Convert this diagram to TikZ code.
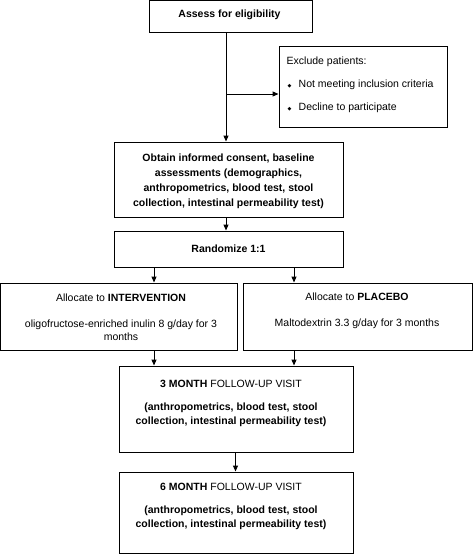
\documentclass[tikz,border=0pt]{standalone}
\usepackage{fontspec}
\setmainfont{Liberation Sans}
\newfontfamily\symfont{DejaVu Sans}
\usetikzlibrary{arrows.meta}
\newcommand{\bul}{\makebox[12pt][l]{\hspace{1pt}{\symfont\fontsize{5}{5}\selectfont ◆}}}
\begin{document}
\begin{tikzpicture}[x=1pt,y=-1pt,
  box/.style={draw=black,line width=1pt,rectangle,inner sep=0pt},
  txt/.style={inner sep=0pt,align=center,font=\fontsize{10.5}{14}\selectfont},
  arr/.style={line width=1pt,-{Triangle[length=6pt,width=5pt]}}]
\useasboundingbox (0,0) rectangle (473,554);
% boxes
\node[box,minimum width=163pt,minimum height=31.5pt] (assess) at (230.5,16.25) {};
\node[box,minimum width=168pt,minimum height=81pt] (excl) at (363,86.5) {};
\node[box,minimum width=229pt,minimum height=75pt] (consent) at (228.5,179.5) {};
\node[box,minimum width=229pt,minimum height=36pt] (rand) at (228.5,249) {};
\node[box,minimum width=236.5pt,minimum height=67pt] (interv) at (118.75,316.5) {};
\node[box,minimum width=229pt,minimum height=67pt] (placebo) at (357.5,316.5) {};
\node[box,minimum width=234pt,minimum height=86pt] (m3) at (236,409) {};
\node[box,minimum width=234pt,minimum height=81pt] (m6) at (236,512.5) {};
% texts
\node[txt] (tassess) at (229.5,15) {\textbf{Assess for eligibility}};
\node[txt,align=left,anchor=west,font=\fontsize{10.5}{23}\selectfont] (texcl) at (286.5,85)
  {Exclude patients:\\ \bul Not meeting inclusion criteria\\ \bul Decline to participate};
\node[txt,font=\bfseries\fontsize{10.5}{15}\selectfont] (tconsent) at (228.5,181.5)
  {Obtain informed consent, baseline\\ assessments (demographics,\\ anthropometrics, blood test, stool\\ collection, intestinal permeability test)};
\node[txt] (trand) at (228.5,249) {\textbf{Randomize 1:1}};
\node[txt,font=\fontsize{10.5}{13.5}\selectfont] (tinterv) at (121,317)
  {Allocate to \textbf{INTERVENTION}\\[12.5pt] oligofructose-enriched inulin 8 g/day for 3\\ months};
\node[txt,font=\fontsize{10.5}{13.5}\selectfont] (tplacebo) at (357,310.5)
  {Allocate to \textbf{PLACEBO}\\[12.5pt] Maltodextrin 3.3 g/day for 3 months};
\node[txt] (tm3) at (231,403.5)
  {\textbf{3 MONTH} FOLLOW-UP VISIT\\[9pt] \textbf{(anthropometrics, blood test, stool}\\ \textbf{collection, intestinal permeability test)}};
\node[txt] (tm6) at (231,506)
  {\textbf{6 MONTH} FOLLOW-UP VISIT\\[9pt] \textbf{(anthropometrics, blood test, stool}\\ \textbf{collection, intestinal permeability test)}};
% connectors
\coordinate (br) at (226,94);
\draw[arr] ([xshift=-4.5pt]assess.south) -- ([xshift=-4.5pt]assess.south |- consent.north);
\draw[arr] (br) -- (br -| excl.west);
\draw[arr] ([xshift=-2.5pt]consent.south) -- ([xshift=-2.5pt]consent.south |- rand.north);
\draw[arr] ([xshift=-74.5pt]rand.south) -- ([xshift=-74.5pt]rand.south |- interv.north);
\draw[arr] ([xshift=65.5pt]rand.south) -- ([xshift=65.5pt]rand.south |- placebo.north);
\draw[arr] ([xshift=35.25pt]interv.south) -- ([xshift=35.25pt]interv.south |- m3.north);
\draw[arr] ([xshift=-63.5pt]placebo.south) -- ([xshift=-63.5pt]placebo.south |- m3.north);
\draw[arr] ([xshift=-0.5pt]m3.south) -- ([xshift=-0.5pt]m3.south |- m6.north);
\end{tikzpicture}
\end{document}
